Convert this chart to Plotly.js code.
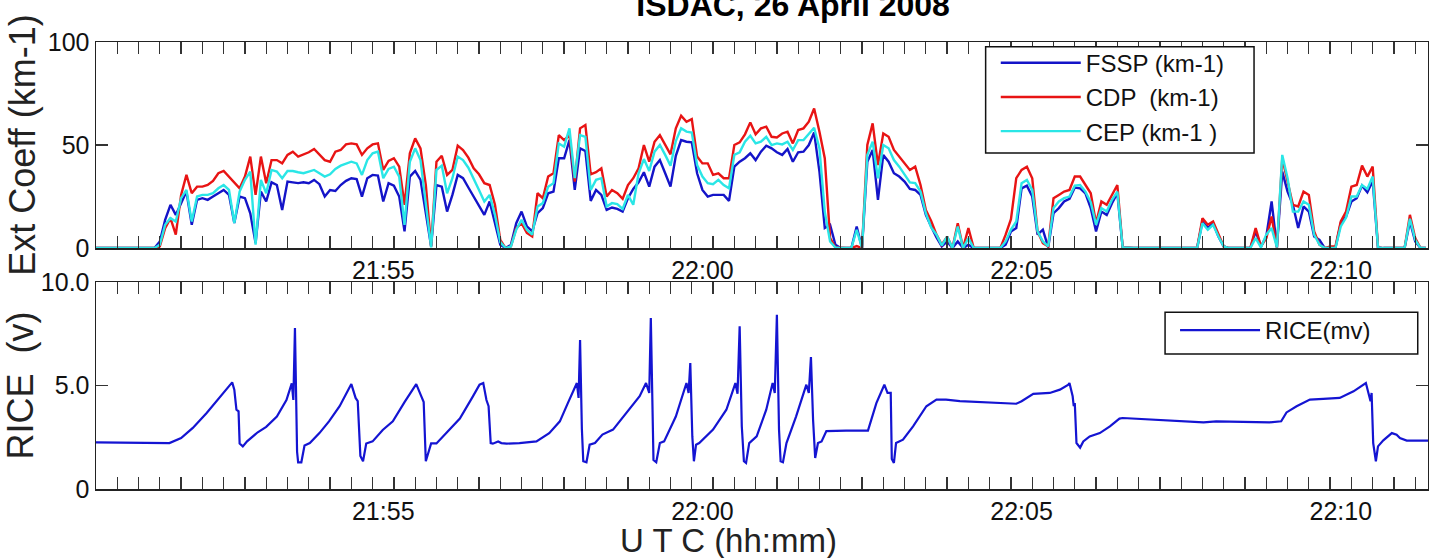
<!DOCTYPE html>
<html>
<head>
<meta charset="utf-8">
<script src="https://cdn.plot.ly/plotly-3.0.1.min.js"></script>
<style>html,body{margin:0;padding:0;background:#fff;}#chart{width:1429px;height:558px;}</style>
</head>
<body>
<div id="chart"></div>
<script>
// time in seconds after 21:50:00 UTC
const tickVals = [300, 600, 900, 1200];
const tickText = ['21:55', '22:00', '22:05', '22:10'];

const tTop = [30,85,
90,95,100,105,110,115,120,125,130,135,140,145,150,155,160,165,170,175,180,185,
190,195,200,205,210,215,220,225,230,235,240,245,250,255,260,265,270,275,280,285,
290,295,300,305,310,315,320,325,330,335,340,345,350,355,360,365,370,375,380,385,
390,395,400,405,410,415,420,425,430,435,440,445,450,455,460,465,470,475,480,485,
490,495,500,505,510,515,520,525,530,535,540,545,550,555,560,565,570,575,580,585,
590,595,600,605,610,615,620,625,630,635,640,645,650,655,660,665,670,675,680,685,
690,695,700,705,710,715,720,725,730,735,740,745,750,755,760,765,770,775,780,785,
790,795,800,805,810,815,820,825,830,835,840,845,850,855,860,865,870,875,880,885,
890,895,900,905,910,915,920,925,930,935,940,945,950,955,960,965,970,975,980,985,
990,995,1000,1005,1010,1015,1020,1025,1030,1035,1040,1045,1050,1055,1060,1065,1070,1075,1080,1085,
1090,1095,1100,1105,1110,1115,1120,1125,1130,1135,1140,1145,1150,1155,1160,1165,1170,1175,1180,1185,
1190,1195,1200,1205,1210,1215,1220,1225,1230,1235,1240,1245,1250,1255,1260,1265,1270,1275,1280];

const fssp = [0,0,
3.2,13.7,21,16.1,21.8,27.4,11.3,23.4,24.2,23.4,25,26.6,28.2,25.8,12.1,25,24.2,16.9,2.4,27.4,
22.6,31.9,30.6,18.5,32.3,31.9,31.5,31.9,31.5,33.1,31,25,28.2,27.7,30.6,32.6,33.9,33.5,25,33.9,
35.5,35.2,22.6,31.5,30.3,25,8.1,34.7,37.4,33.1,16.9,0.8,30.6,29.8,17.7,25.8,35.5,33.9,29.4,25,
21,16.1,22.6,12.1,1.6,0,1.6,12.1,17.7,10.5,8.1,16.9,19.4,26.6,27.4,43.6,43.6,52.4,28.2,48.4,
47.1,22.9,28.2,25.8,18.5,19.7,19,17.7,24.2,28.7,31.9,36.8,29.8,39.5,42.7,36.3,29.8,44.8,52.4,51.6,
51.3,36.3,28.2,25,25.8,25.8,25.8,22.9,39.5,41.9,43.6,46,42.7,46.8,49.7,48.4,46.5,45.2,48.1,41.9,
46.5,46.8,50,56.1,37.1,9.7,11.3,1.6,0,0,0,10.5,0,41.9,47.6,23.4,45.2,41.9,36.3,34.7,
32.3,28.7,28.2,25.8,16.1,10.5,5.2,0.8,3.2,0,3.2,0,1.6,0,0,0,0,0,0,1.6,
8,9.7,29,30.3,25,6.5,8.9,0.3,16.9,19.4,22.6,23.9,29.4,29,26.6,19.4,8.1,17.7,16.1,21.8,
26.6,0.3,0,0,0,0,0,0,0,0,0,0,0,0,0,0,12.9,9.7,12.1,5.6,
0.8,0,0,0,0,0,8.1,0.8,5.6,22.6,0.3,37.1,27.4,21,9.7,20.2,17.7,5.6,4,0,
0,0,12.1,15.3,22.6,24.2,30.3,27.1,32.6,0.3,0,0,0,0,0,12.9,3.2,0,0];

const cdp = [0,0,
0.8,9.7,14.5,6.5,25.8,35.5,26.6,29.8,29.8,30.6,32.6,36.3,37.4,34.7,31.5,29,34.7,44.4,25.8,44.4,
31.5,42.7,42.7,41.1,45.2,46.8,44.4,45.5,46.5,48.1,45.2,42.7,41.9,46.8,47.6,50.3,50.8,50.3,45.2,48.4,
50.3,50.8,37.9,42.3,43.6,39.5,21,46,53.2,48.4,30.6,0.8,41.9,44.8,35.5,37.9,49.7,47.6,43.9,38.7,
35.8,31.5,30.6,21,4,0,0.8,9.7,12.1,7.3,5.6,26.6,24.2,34.7,36.3,54.8,52.4,54.8,32.3,58.1,
59.7,35.8,36.8,38.7,25,28.2,26.6,23.9,30.6,33.9,38.7,50,41.9,51.6,54.8,50,45.5,58.1,64.2,61.3,
62.6,44.4,41.1,41.1,35.5,36.3,33.9,33.9,50,51.3,55.2,61,55.2,58.1,58.9,54,53.7,55.6,56.5,50.8,
57.3,58.1,61.3,67.7,56.5,43.6,4.8,0.3,0,0,0,1,0,50,60.5,40.3,55.6,54,47.6,44.4,
41.1,37.9,39.5,30.6,18.5,13.2,6.5,1.6,5.6,0,12.1,0,9.7,0,0,0,0,0,0,6.5,
14,33.9,37.9,39.5,33.9,8.1,2.4,0.8,24.2,25.8,27.4,28.2,34.7,34.7,30.6,26.6,12.1,22.6,21,26.1,
30.6,0.3,0,0,0,0,0,0,0,0,0,0,0,0,0,0,14.5,11.3,12.9,6.5,
0.8,0,0,0,0,0,9.7,0.8,4.8,15.3,0.3,43.6,32.3,21,20.2,27.4,25.8,8.1,1.6,0,
0.8,0.8,12.9,17.7,29.8,30.6,40,34.7,39.5,0.3,0,0,0,0,0,16.1,4.8,0,0];

const cep = [0,0,
1.6,11.3,14.5,12.9,24.2,28.2,12.9,25,25.8,25.8,26.6,29,30.6,28.2,12.1,27.4,33.1,37.1,1.6,33.1,
26.6,37.9,37.1,33.9,37.4,37.4,36.8,36.3,37.1,37.9,36.3,34.7,35.8,38.4,40,41.1,41.9,41.1,35.5,42.7,
46,46.8,33.9,38.4,39.5,34.7,11.3,41.9,48.4,42.7,22.6,0.3,37.9,40,26.6,33.9,44.4,42.7,39,33.9,
28.2,22.6,25.8,16.1,2.9,0,0.8,8.9,13.7,8.9,6.5,20.2,21.8,29.8,31.5,50.8,49.2,58.1,33.9,54.8,
54,28.2,33.1,33.9,20.2,21.8,21.3,19,25.8,21,36.3,43.2,37.4,46.8,50,45.2,40,51.9,58.1,56.5,
56.1,40.3,34.7,31.5,31,33.1,30.6,29,45.2,46.5,51.6,54.5,50.8,51.6,54,50,50.8,50.3,51.6,47.6,
52.4,52.4,55.2,58.4,48.4,17.7,3.2,0.3,0,0,0,8.9,0,45.2,51.6,33.9,50,48.4,42.7,39.5,
35.5,31.9,31.5,27.4,16.9,10,6.5,1.3,5.6,0,10.5,0,4.8,0,0,0,0,0,0,3.2,
9,12.9,31.5,33.1,28.2,8.1,3.2,0.8,19.4,22.6,24.2,25,30.3,30.6,27.4,22.3,11.3,19.4,17.7,23.4,
27.4,0.3,0,0,0,0,0,0,0,0,0,0,0,0,0,0,12.1,8.9,11.3,5.6,
0.8,0,0,0,0,0,4.8,0.3,6.5,9.7,0.3,45.2,33.9,17.7,17.7,22.6,21,6.5,1.6,0,
0,0,10.5,14.8,25,25,30.6,28.7,34.7,0.3,0,0,0,0,0,14.2,4,0,0];

const tRice = [30,96,99,110,121,134,146,158,160,162,
164,165,168,172,182,190,200,209,214,215.5,
217,219,220,223,226,231,240,249,259,270,
274,276,278.5,281,284,290,299.5,309,320,331,
335.6,338,340,345,350,359,372,384,390.5,394,
396,397,399,401,403,408,411,416,428,444,
456,466,473.5,480,482,483.6,485,486.7,488,491,
494,499,506,516,528,541,547,550,551.5,553,
554,556.6,560,564,575,585,587,588.6,590.5,592,
594,597,610,622.5,631,633,635,637,639,641,
644,651,660,666,668,670,672,673.5,675.7,679,
688,697.7,700,702,704,706,708.6,712,716.5,735,
755.6,763.5,771,774,777,778,780,782,788.5,798,
810.5,820,829,842,864,879.5,895,900,911,926.5,
936,944,945,948,949,950,951.6,955,958,964,
973.5,983,992,995,1020.5,1052,1071,1083,1115,1133,
1144,1149,1158.5,1171,1183.5,1199,1212,1221,1223.6,1226,
1228,1229,1230.5,1233,1235,1240,1244.6,1248,1252.5,1255.6,
1262,1271,1282];

const rice = [2.25,2.25,2.22,2.46,2.95,3.67,4.4,5.15,4.8,3.83,
3.75,2.2,2.06,2.3,2.74,3.0,3.5,4.3,5.1,4.3,
7.78,1.8,1.29,1.29,2.1,2.22,2.7,3.27,4.0,5.07,
4.4,4.25,1.6,1.34,2.2,2.3,2.85,3.27,4.2,5.07,
4.5,4.2,1.34,2.2,2.2,2.7,3.4,4.45,5.04,5.12,
4.6,4.3,4.0,2.22,2.19,2.3,2.22,2.19,2.22,2.3,
2.7,3.27,4.15,4.96,5.12,4.4,7.2,2.9,1.34,1.29,
2.14,2.22,2.63,2.87,3.67,4.48,5.12,4.64,8.26,3.83,
1.4,1.29,2.22,2.3,3.5,5.12,4.64,6.09,2.54,1.34,
2.14,2.22,2.87,3.83,5.12,4.6,7.86,3.03,1.34,1.26,
2.22,2.54,3.83,5.12,4.64,8.42,2.87,1.34,1.29,2.22,
3.5,5.04,4.64,6.38,3.35,1.5,2.22,2.3,2.8,2.82,
2.82,4.15,5.04,4.64,4.64,1.45,1.26,2.22,2.38,3.03,
4.0,4.32,4.32,4.25,4.19,4.15,4.12,4.24,4.6,4.64,
4.8,5.04,5.12,4.48,4.0,4.15,2.22,2.0,2.3,2.54,
2.7,3.03,3.4,3.43,3.35,3.27,3.22,3.27,3.22,3.22,
3.27,3.7,4.0,4.32,4.35,4.4,4.72,5.04,5.12,4.64,
4.24,4.64,2.22,1.34,2.06,2.35,2.54,2.7,2.62,2.46,
2.34,2.34,2.34];

[fssp, cdp, cep].forEach(function (a) {
  if (a.length !== tTop.length) throw new Error('length mismatch ' + a.length + ' vs ' + tTop.length);
});
if (rice.length !== tRice.length) throw new Error('rice length mismatch ' + rice.length + ' vs ' + tRice.length);

const FONT = 'Liberation Sans, Arial, Helvetica, sans-serif';
const AX = '#222';

const traces = [
  {x: tTop, y: fssp, name: 'FSSP (km-1)', type: 'scatter', mode: 'lines', xaxis: 'x', yaxis: 'y',
   line: {color: '#1414c8', width: 2.4}, legend: 'legend'},
  {x: tTop, y: cdp, name: 'CDP \u00a0(km-1)', type: 'scatter', mode: 'lines', xaxis: 'x', yaxis: 'y',
   line: {color: '#e81414', width: 2.4}, legend: 'legend'},
  {x: tTop, y: cep, name: 'CEP (km-1 )', type: 'scatter', mode: 'lines', xaxis: 'x', yaxis: 'y',
   line: {color: '#2ae6e6', width: 2.4}, legend: 'legend'},
  {x: tRice, y: rice, name: 'RICE(mv)', type: 'scatter', mode: 'lines', xaxis: 'x2', yaxis: 'y2',
   line: {color: '#1414d2', width: 2.2}, legend: 'legend2'}
];

function xAxis(anchor) {
  return {
    anchor: anchor, range: [30, 1282], tickmode: 'array', tickvals: tickVals, ticktext: tickText,
    ticks: 'inside', ticklen: 0, showline: true, linecolor: AX, linewidth: 1.5, mirror: 'ticks',
    showgrid: false, zeroline: false, tickfont: {size: 25, color: '#111'}, ticklabelstandoff: -1,
    minor: {tickmode: 'linear', tick0: 10, dtick: 20, ticks: 'inside', ticklen: 12, tickwidth: 1.3,
            tickcolor: '#333', showgrid: false}
  };
}
function yAxis(domain, range, vals, text, title) {
  return {
    domain: domain, range: range, tickmode: 'array', tickvals: vals, ticktext: text,
    ticks: 'inside', ticklen: 12, tickwidth: 1.3, tickcolor: '#333', showline: true, linecolor: AX, linewidth: 1.5,
    mirror: 'ticks', showgrid: false, zeroline: false, tickfont: {size: 25, color: '#111'},
    title: {text: title, font: {size: 36, color: '#222'}, standoff: 1}
  };
}

// legend frames (paper coordinates)
const boxLine = {color: '#111', width: 1.5};
const layout = {
  width: 1429, height: 558,
  margin: {l: 96, r: 1, t: 42, b: 69},
  paper_bgcolor: '#ffffff', plot_bgcolor: '#ffffff',
  font: {family: FONT, color: '#111'},
  showlegend: true,
  title: {text: '<b>ISDAC, 26 April 2008</b>', font: {size: 32, color: '#000'},
          xref: 'container', x: 0.555, xanchor: 'center', yref: 'container', y: 0.992, yanchor: 'middle'},
  xaxis: xAxis('y'),
  xaxis2: xAxis('y2'),
  yaxis: yAxis([0.539, 1], [0, 100], [0, 50, 100], ['0', '50', '100'], 'Ext Coeff (km-1)'),
  yaxis2: yAxis([0, 0.463], [0, 10], [0, 5, 10], ['0', '5.0', '10.0'], 'RICE \u00a0(v)'),
  shapes: [
    {type: 'rect', xref: 'paper', yref: 'paper', x0: 0.6679, x1: 0.8694, y0: 0.7517, y1: 0.9895,
     line: boxLine, fillcolor: '#ffffff', layer: 'above'},
    {type: 'rect', xref: 'paper', yref: 'paper', x0: 0.8026, x1: 0.9923, y0: 0.3020, y1: 0.3953,
     line: boxLine, fillcolor: '#ffffff', layer: 'above'}
  ],
  legend: {x: 0.6755, y: 1.003, xanchor: 'left', yanchor: 'top', bgcolor: 'rgba(0,0,0,0)',
           borderwidth: 0, font: {size: 24, color: '#111'}, itemwidth: 80, tracegroupgap: 0},
  legend2: {x: 0.8101, y: 0.4049, xanchor: 'left', yanchor: 'top', bgcolor: 'rgba(0,0,0,0)',
            borderwidth: 0, font: {size: 24, color: '#111'}, itemwidth: 80},
  annotations: [
    {text: 'U T C (hh:mm)', xref: 'paper', yref: 'paper', x: 0.4745, y: -0.1141, xanchor: 'center', yanchor: 'middle',
     showarrow: false, font: {size: 33, color: '#222'}}
  ]
};

Plotly.newPlot('chart', traces, layout, {displayModeBar: false, staticPlot: true});
</script>
</body>
</html>
